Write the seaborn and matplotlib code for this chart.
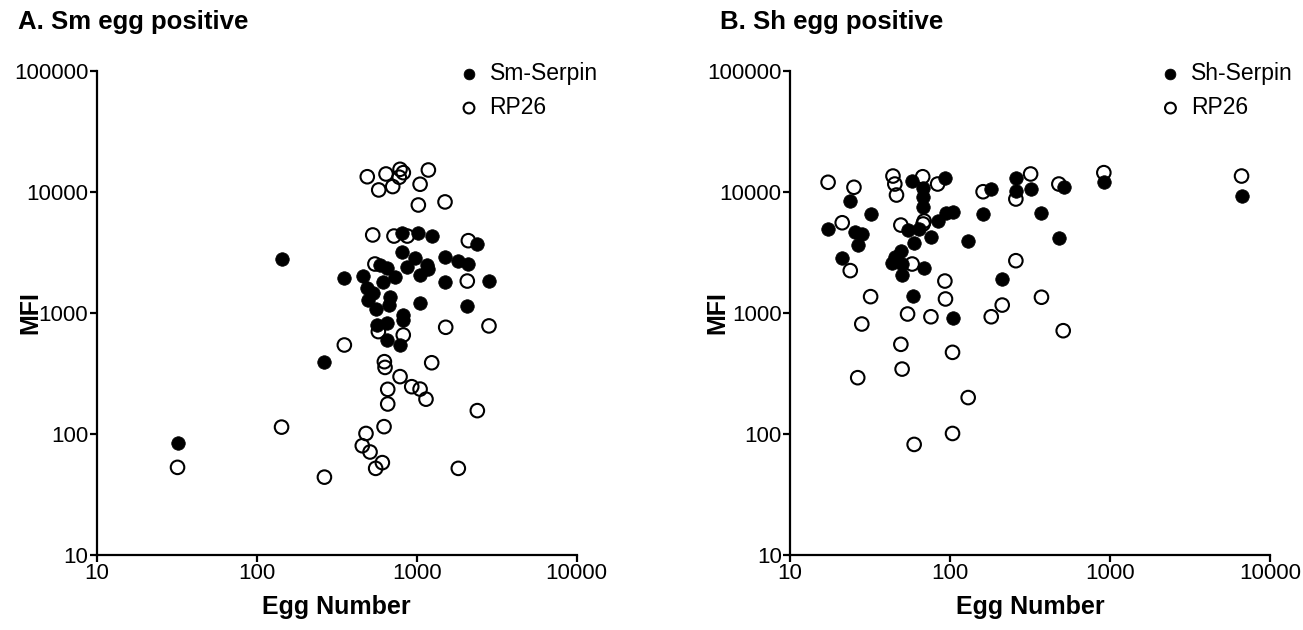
# Serpin vs RP26 antibody response (MFI) by egg count, two panels
import pandas as pd
import matplotlib
matplotlib.use('Agg')
import matplotlib.pyplot as plt
import matplotlib.ticker as mticker
import seaborn as sns

# 0. Data
# A. Sm egg positive
sm_serpin_eggs = [32, 144, 265, 353, 460, 487, 536, 499, 557, 674, 618, 731, 681, 590, 650,
                  813, 1024, 1240, 806, 975, 867, 1156, 1183, 1050, 824, 561, 649, 824, 649,
                  787, 1503, 1821, 2103, 1503, 2843, 1050, 2071, 2395]
sm_serpin_mfi = [84, 2790, 391, 1936, 2023, 1600, 1455, 1281, 1072, 1163, 1815, 1997, 1364,
                 2493, 2340, 4560, 4560, 4330, 3213, 2830, 2415, 2493, 2297, 2063, 962, 796,
                 822, 875, 598, 544, 2885, 2705, 2540, 1815, 1848, 1216, 1142, 3700]
sm_rp26_eggs = [32, 143, 265, 353, 491, 643, 787, 825, 778, 579, 708, 1183, 1050, 1024, 1503,
                531, 721, 873, 2103, 2071, 548, 824, 576, 628, 634, 787, 931, 1050, 1143, 659,
                659, 625, 482, 457, 511, 610, 554, 1518, 2830, 1241, 2393, 1820]
sm_rp26_mfi = [53, 114, 44, 544, 13370, 14090, 15400, 14450, 13250, 10400, 11090, 15200,
               11590, 7810, 8280, 4415, 4325, 4325, 3960, 1837, 2540, 658, 702, 396, 355, 298,
               246, 235, 194, 234, 177, 115, 101, 80, 71, 58, 52, 762, 782, 388, 156, 52]

# B. Sh egg positive
sh_serpin_eggs = [58, 67.5, 67.5, 67.5, 93, 23.6, 31.9, 17.3, 25.4, 28.1, 26.5, 21.2, 54.8,
                  64.1, 76, 59.7, 84.2, 95, 104.6, 129.9, 160.7, 181, 49.3, 45.2, 43.1, 50.2,
                  50.2, 69, 58.3, 103.7, 258, 258, 319, 516, 915, 6640, 373, 481, 212]
sh_serpin_mfi = [12380, 10740, 9150, 7560, 12970, 8430, 6580, 4940, 4700, 4500, 3650, 2865,
                 4850, 4980, 4230, 3770, 5790, 6660, 6790, 3960, 6550, 10520, 3270, 2920, 2575,
                 2540, 2060, 2370, 1390, 904, 12970, 10250, 10520, 11070, 12030, 9270, 6740,
                 4140, 1900]
sh_rp26_eggs = [17.3, 25.1, 44, 45.2, 46.3, 67.5, 83.7, 161, 21.2, 49.3, 68.9, 67.9, 58, 23.8,
                31.9, 92.9, 93.7, 54.3, 76, 181, 28.1, 258, 319, 479, 915, 6640, 258, 373,
                212, 49.3, 103.7, 50.2, 26.5, 129.9, 103.7, 59.7, 510]
sh_rp26_mfi = [12030, 10940, 13550, 11640, 9440, 13370, 11640, 10050, 5570, 5330, 5750, 5440,
               2540, 2240, 1365, 1837, 1306, 981, 931, 931, 811, 8750, 14090, 11640, 14450,
               13550, 2705, 1350, 1163, 551, 473, 344, 292, 200, 101, 82, 714]

x_ticks = [10, 100, 1000, 10000]
y_ticks = [10, 100, 1000, 10000, 100000]

# 1. Style
sns.set_theme(style='ticks')
plt.rcParams['font.family'] = ['Liberation Sans', 'DejaVu Sans']
plt.rcParams['text.color'] = 'black'
plt.rcParams['axes.labelcolor'] = 'black'
plt.rcParams['xtick.color'] = 'black'
plt.rcParams['ytick.color'] = 'black'

W, H = 1303, 630
fig = plt.figure(figsize=(W / 100, H / 100), dpi=100)
ax_a = fig.add_axes([96.7 / W, 75 / H, 480 / W, 484 / H])
ax_b = fig.add_axes([790 / W, 75 / H, 480 / W, 484 / H])


def draw_panel(ax, eggs_f, mfi_f, eggs_o, mfi_o, serpin_name, title, title_x, leg_x, ylab_x):
    df_o = pd.DataFrame({'Egg Number': eggs_o, 'MFI': mfi_o})
    df_f = pd.DataFrame({'Egg Number': eggs_f, 'MFI': mfi_f})
    sns.scatterplot(data=df_o, x='Egg Number', y='MFI', ax=ax, s=95, marker='o',
                    facecolors='none', edgecolor='black', linewidth=1.5, label='RP26', zorder=2)
    sns.scatterplot(data=df_f, x='Egg Number', y='MFI', ax=ax, s=95, marker='o',
                    color='black', edgecolor='black', linewidth=0.5, label=serpin_name, zorder=3)
    ax.set_xscale('log')
    ax.set_yscale('log')
    ax.set_xlim(10, 10000)
    ax.set_ylim(10, 100000)
    ax.set_xticks(x_ticks)
    ax.set_xticklabels([str(t) for t in x_ticks])
    ax.set_yticks(y_ticks)
    ax.set_yticklabels([str(t) for t in y_ticks])
    ax.xaxis.set_minor_locator(mticker.NullLocator())
    ax.yaxis.set_minor_locator(mticker.NullLocator())
    for side in ['left', 'bottom']:
        ax.spines[side].set_linewidth(1.6)
        ax.spines[side].set_color('black')
    sns.despine(ax=ax)
    ax.tick_params(axis='both', which='major', length=5, width=1.6, color='black',
                   labelsize=16, labelcolor='black', pad=1)
    ax.set_xlabel('Egg Number', fontsize=18, fontweight='bold', labelpad=8)
    ax.set_ylabel('MFI', fontsize=18, fontweight='bold')
    ax.yaxis.set_label_coords(ylab_x, 0.5)

    handles, labels = ax.get_legend_handles_labels()
    order = [labels.index(serpin_name), labels.index('RP26')]
    ax.legend([handles[i] for i in order], [labels[i] for i in order],
              loc='upper left', bbox_to_anchor=(leg_x, 1.062), frameon=False,
              fontsize=16.5, markerscale=0.8, handletextpad=0.3, labelspacing=0.5,
              handlelength=1.2)
    fig.text(title_x / W, 1 - 22 / H, title, fontsize=18.5, fontweight='bold',
             ha='left', va='center')


draw_panel(ax_a, sm_serpin_eggs, sm_serpin_mfi, sm_rp26_eggs, sm_rp26_mfi,
           'Sm-Serpin', 'A. Sm egg positive', 18, 0.704, -0.113)
draw_panel(ax_b, sh_serpin_eggs, sh_serpin_mfi, sh_rp26_eggs, sh_rp26_mfi,
           'Sh-Serpin', 'B. Sh egg positive', 720, 0.721, -0.127)

fig.savefig('out.png', dpi=100, facecolor='white')
